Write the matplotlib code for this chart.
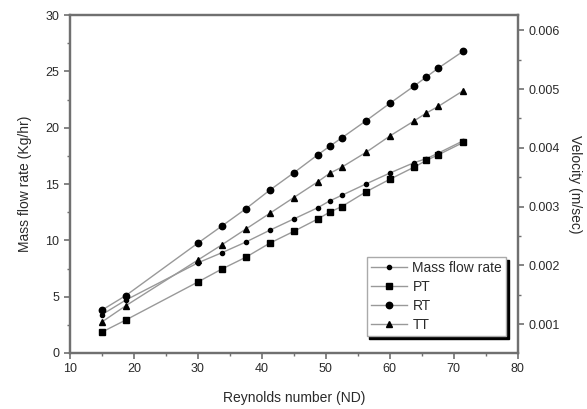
import matplotlib.pyplot as plt
from matplotlib.ticker import MultipleLocator, FormatStrFormatter

plt.rcParams['font.family'] = ['Liberation Sans', 'DejaVu Sans']

# Reynolds number (ND)
reynolds = [15, 18.75, 30, 33.75, 37.5, 41.25, 45, 48.75, 50.6, 52.5,
            56.25, 60.1, 63.8, 65.7, 67.6, 71.5]

# mass flow rate (Kg/hr), left axis
mass_flow = [3.4, 4.7, 8.0, 8.9, 9.85, 10.9, 11.9, 12.9, 13.5, 14.0,
             15.0, 16.0, 16.9, 17.25, 17.75, 18.85]

# velocities (m/sec), right axis
vel_pt = [0.000862, 0.001069, 0.001715, 0.001936, 0.002137, 0.002377,
          0.002578, 0.002789, 0.002904, 0.003000, 0.003249, 0.003470,
          0.003671, 0.003786, 0.003882, 0.004093]
vel_rt = [0.001236, 0.001485, 0.002377, 0.002668, 0.002962, 0.003280,
          0.003575, 0.003882, 0.004026, 0.004170, 0.004458, 0.004765,
          0.005052, 0.005206, 0.005359, 0.005647]
vel_tt = [0.001034, 0.001312, 0.002089, 0.002348, 0.002617, 0.002885,
          0.003154, 0.003422, 0.003566, 0.003671, 0.003921, 0.004208,
          0.004458, 0.004592, 0.004707, 0.004975]

txt = '#2a2a2a'
spine_c = '#707070'
line_c = '#999999'

fig = plt.figure(figsize=(5.87, 4.09), dpi=100)
ax = fig.add_axes([0.119, 0.137, 0.763, 0.826])
ax2 = ax.twinx()

h1, = ax.plot(reynolds, mass_flow, color=line_c, lw=1.0, marker='o', ms=3.0,
              mfc='black', mec='black', label='Mass flow rate')
h2, = ax2.plot(reynolds, vel_pt, color=line_c, lw=1.0, marker='s', ms=4.2,
               mfc='black', mec='black', label='PT')
h3, = ax2.plot(reynolds, vel_rt, color=line_c, lw=1.0, marker='o', ms=4.6,
               mfc='black', mec='black', label='RT')
h4, = ax2.plot(reynolds, vel_tt, color=line_c, lw=1.0, marker='^', ms=4.6,
               mfc='black', mec='black', label='TT')

ax.set_xlim(10, 80)
ax.set_ylim(0, 30)
ax2.set_ylim(0.000507, 0.00626)

ax.xaxis.set_major_locator(MultipleLocator(10))
ax.xaxis.set_minor_locator(MultipleLocator(5))
ax.yaxis.set_major_locator(MultipleLocator(5))
ax.yaxis.set_minor_locator(MultipleLocator(2.5))
ax2.yaxis.set_major_locator(MultipleLocator(0.001))
ax2.yaxis.set_minor_locator(MultipleLocator(0.0005))
ax2.yaxis.set_major_formatter(FormatStrFormatter('%.3f'))

for a in (ax, ax2):
    for s in a.spines.values():
        s.set_color(spine_c)
        s.set_linewidth(1.6)
    a.tick_params(which='major', direction='out', length=4, width=1.2,
                  color=spine_c, labelsize=9, labelcolor=txt)
    a.tick_params(which='minor', direction='out', length=2.5, width=1.0,
                  color=spine_c)

ax.set_xlabel('Reynolds number (ND)', fontsize=10, color=txt, labelpad=11)
ax.set_ylabel('Mass flow rate (Kg/hr)', fontsize=10, color=txt, labelpad=10)
ax2.set_ylabel('Velocity (m/sec)', fontsize=10, color=txt, rotation=270,
               labelpad=16)

leg = ax2.legend(handles=[h1, h2, h3, h4], loc='lower right',
                 bbox_to_anchor=(0.99, 0.03), fontsize=10, frameon=True,
                 fancybox=False, edgecolor='#aaaaaa', handlelength=2.6,
                 borderpad=0.3, labelspacing=0.35, handletextpad=0.4,
                 shadow={'color': 'black', 'alpha': 1.0})
leg.get_frame().set_linewidth(1.0)
for t in leg.get_texts():
    t.set_color(txt)

fig.savefig('out.png', dpi=100)
